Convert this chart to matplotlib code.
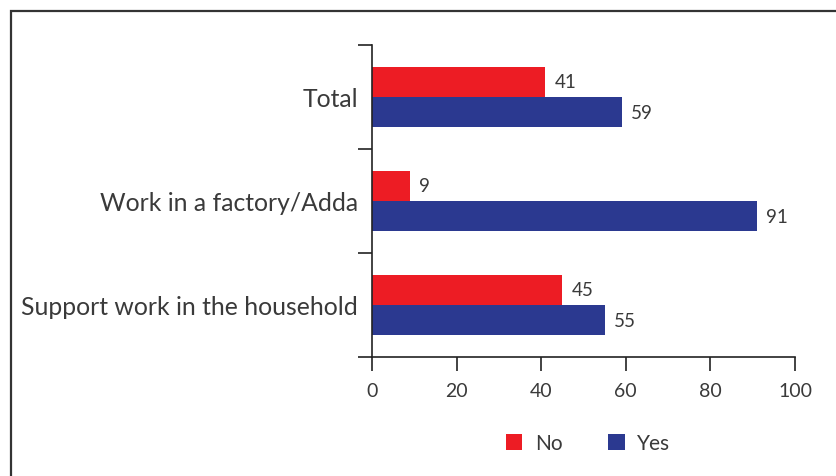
import matplotlib.pyplot as plt
import matplotlib.patches as mpatches
import numpy as np

# Share of respondents (%) by type of work
categories = ['Total', 'Work in a factory/Adda', 'Support work in the household']
no_values = [41, 9, 45]
yes_values = [59, 91, 55]

red = '#ED1C24'
blue = '#2B3990'
plt.rcParams['font.family'] = ['Lato', 'DejaVu Sans']

fig = plt.figure(figsize=(8.37, 4.77), dpi=100)
ax = fig.add_axes([0.4444, 0.2495, 0.5054, 0.6541])

# outer frame of the figure
frame = mpatches.Rectangle((11 / 837, -0.1), 1.0, 1 - 12 / 477 + 0.1,
                           transform=fig.transFigure, fill=False,
                           edgecolor='#333333', linewidth=1.6)
fig.patches.append(frame)

y = np.arange(len(categories))
h = 0.29
ax.barh(y - h / 2, no_values, height=h, color=red, label='No')
ax.barh(y + h / 2, yes_values, height=h, color=blue, label='Yes')

for i in range(len(categories)):
    ax.text(no_values[i] + 2.2, y[i] - h / 2, str(no_values[i]),
            va='center', ha='left', fontsize=13.5, color='#3a3a3a')
    ax.text(yes_values[i] + 2.2, y[i] + h / 2, str(yes_values[i]),
            va='center', ha='left', fontsize=13.5, color='#3a3a3a')

ax.set_xlim(0, 100)
ax.set_ylim(2.5, -0.5)
ax.set_xticks([0, 20, 40, 60, 80, 100])
ax.set_yticks([-0.5, 0.5, 1.5, 2.5])
ax.set_yticklabels([])
ax.set_yticks(y, minor=True)
ax.set_yticklabels(categories, minor=True)
ax.tick_params(axis='y', which='minor', length=0, pad=10, labelsize=17.8, labelcolor='#3a3a3a')
ax.tick_params(axis='y', which='major', length=10, width=1.2, color='#222222')
ax.tick_params(axis='x', length=10, width=1.2, color='#222222', pad=8,
               labelsize=14, labelcolor='#3a3a3a')

for side in ['top', 'right']:
    ax.spines[side].set_visible(False)
for side in ['left', 'bottom']:
    ax.spines[side].set_linewidth(1.2)
    ax.spines[side].set_color('#222222')

ax.legend(loc='center', bbox_to_anchor=(588 / 837, 1 - 444 / 477),
          bbox_transform=fig.transFigure, ncol=2, frameon=False,
          fontsize=15, handlelength=0.8, handleheight=0.8,
          columnspacing=2.2, handletextpad=0.6, labelcolor='#3a3a3a')

fig.savefig('out.png', dpi=100)
